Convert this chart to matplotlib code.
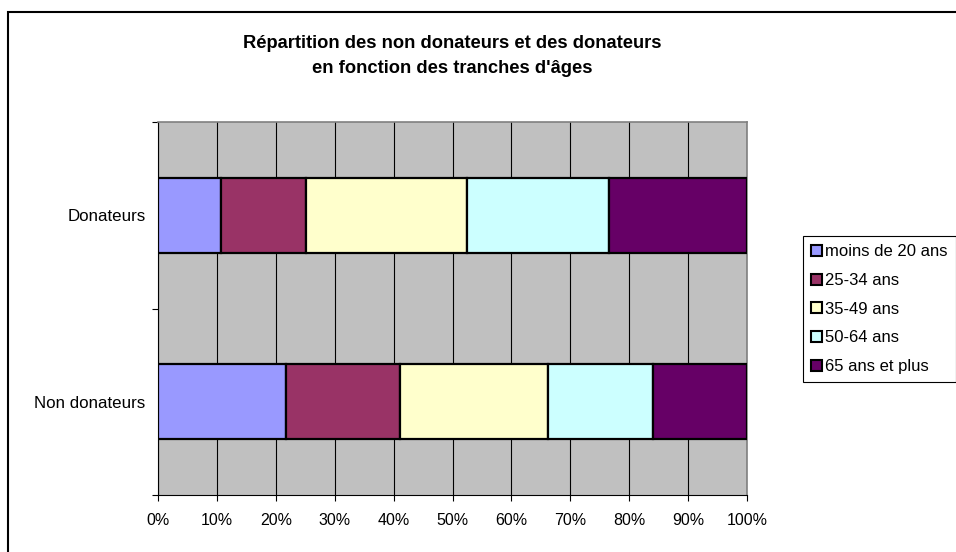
import matplotlib.pyplot as plt
from matplotlib.patches import Patch, Rectangle
import numpy as np

plt.rcParams['font.family'] = ['Liberation Sans', 'DejaVu Sans']

# Data (percent of each group)
groups = ['Non donateurs', 'Donateurs']
age_classes = ['moins de 20 ans', '25-34 ans', '35-49 ans', '50-64 ans', '65 ans et plus']
non_donateurs = [21.7, 19.4, 25.1, 17.8, 16.0]
donateurs = [10.7, 14.4, 27.3, 24.2, 23.4]
colors = ['#9999FF', '#993366', '#FFFFCC', '#CCFFFF', '#660066']

values = np.array([non_donateurs, donateurs])

fig = plt.figure(figsize=(9.56, 5.52), dpi=100)
ax = fig.add_axes([158 / 956, 1 - 495 / 552, 589 / 956, 373 / 552])
ax.set_facecolor('#C0C0C0')

y = np.arange(len(groups))
left = np.zeros(len(groups))
for i, label in enumerate(age_classes):
    ax.barh(y, values[:, i], left=left, height=0.4, color=colors[i],
            edgecolor='black', linewidth=1.6, label=label, zorder=3)
    left += values[:, i]

ax.set_xlim(0, 100)
ax.set_ylim(-0.5, 1.5)
ax.set_xticks(np.arange(0, 101, 10))
ax.set_xticklabels([f'{v}%' for v in range(0, 101, 10)])
ax.set_yticks(y)
ax.set_yticklabels(groups)
ax.set_yticks([-0.5, 0.5, 1.5], minor=True)
ax.tick_params(axis='y', which='major', length=0, pad=9, labelsize=12.2)
ax.tick_params(axis='y', which='minor', length=4, width=0.8, direction='out')
ax.tick_params(axis='x', length=4, width=0.8, pad=9, labelsize=11.5)
ax.grid(axis='x', color='black', linewidth=0.8, zorder=1)
ax.set_axisbelow(True)

for side in ['top', 'right']:
    ax.spines[side].set_color('#808080')
    ax.spines[side].set_linewidth(1.2)
for side in ['left', 'bottom']:
    ax.spines[side].set_color('black')
    ax.spines[side].set_linewidth(0.8)

fig.text(452 / 956, 1 - 48 / 552, "Répartition des non donateurs et des donateurs",
         ha='center', va='baseline', fontsize=13.2, fontweight='bold')
fig.text(452 / 956, 1 - 73 / 552, "en fonction des tranches d'âges",
         ha='center', va='baseline', fontsize=13.2, fontweight='bold')

handles = [Patch(facecolor=c, edgecolor='black', linewidth=1.5) for c in colors]
leg = fig.legend(handles, age_classes, loc='upper left',
                 bbox_to_anchor=(803 / 956, 1 - 236 / 552),
                 fontsize=12, frameon=True, fancybox=False, framealpha=1,
                 edgecolor='black', handlelength=0.62, handleheight=0.62,
                 handletextpad=0.2, labelspacing=0.82, borderpad=0.5,
                 borderaxespad=0)
leg.get_frame().set_linewidth(0.8)

# outer chart border
fig.patches.append(Rectangle((8 / 956, -0.05), 1.0, 1 - 12 / 552 + 0.05,
                             transform=fig.transFigure, fill=False,
                             edgecolor='black', linewidth=1.5))

fig.savefig('out.png', dpi=100)
